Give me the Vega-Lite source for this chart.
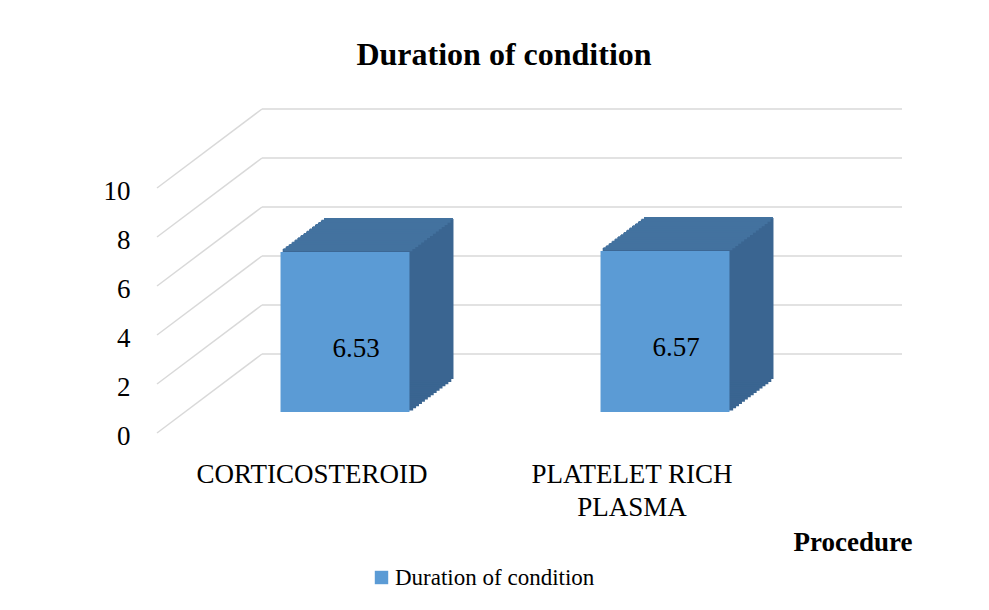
{
  "$schema": "https://vega.github.io/schema/vega-lite/v6.json",
  "width": 640,
  "height": 245,
  "autosize": {"type": "none"},
  "padding": {"left": 157, "top": 188, "right": 192, "bottom": 177},
  "background": "white",
  "config": {"view": {"stroke": null}, "font": "Liberation Serif"},
  "title": {"text": "Duration of condition", "font": "Liberation Serif", "fontSize": 32, "fontWeight": "bold", "color": "black", "anchor": "middle", "baseline": "alphabetic", "offset": 11, "dx": 27},
  "data": {"values": [
    {"procedure": "CORTICOSTEROID", "value": 6.53},
    {"procedure": "PLATELET RICH PLASMA", "value": 6.57}
  ]},
  "layer": [
    {"data": {"values": [{"tick": 0}, {"tick": 2}, {"tick": 4}, {"tick": 6}, {"tick": 8}, {"tick": 10}]},
     "mark": {"type": "rule", "color": "#D9D9D9", "strokeWidth": 1.5, "xOffset": 105, "x2Offset": 105, "yOffset": -79, "y2Offset": -79},
     "encoding": {"x": {"value": 0}, "x2": {"value": 640}, "y": {"field": "tick", "type": "quantitative", "scale": {"domain": [0, 10], "nice": false}}, "y2": {"field": "tick"}}},
    {"data": {"values": [{"tick": 0}, {"tick": 2}, {"tick": 4}, {"tick": 6}, {"tick": 8}, {"tick": 10}]},
     "mark": {"type": "rule", "color": "#D9D9D9", "strokeWidth": 1.5, "x2Offset": 105, "y2Offset": -79},
     "encoding": {"x": {"value": 0}, "x2": {"value": 0}, "y": {"field": "tick", "type": "quantitative"}, "y2": {"field": "tick"}}},
    {"mark": {"type": "bar", "color": "#3A6591", "stroke": "#3A6591", "strokeWidth": 1.5, "xOffset": 30.93, "x2Offset": 30.93, "yOffset": -23.2, "y2Offset": -23.2}, "encoding": {"x": {"field": "procedure", "type": "nominal"}, "y": {"field": "value", "type": "quantitative"}}},
    {"mark": {"type": "bar", "color": "#3A6591", "stroke": "#3A6591", "strokeWidth": 1.5, "xOffset": 33.87, "x2Offset": 33.87, "yOffset": -25.4, "y2Offset": -25.4}, "encoding": {"x": {"field": "procedure", "type": "nominal"}, "y": {"field": "value", "type": "quantitative"}}},
    {"mark": {"type": "bar", "color": "#3A6591", "stroke": "#3A6591", "strokeWidth": 1.5, "xOffset": 36.8, "x2Offset": 36.8, "yOffset": -27.6, "y2Offset": -27.6}, "encoding": {"x": {"field": "procedure", "type": "nominal"}, "y": {"field": "value", "type": "quantitative"}}},
    {"mark": {"type": "bar", "color": "#3A6591", "stroke": "#3A6591", "strokeWidth": 1.5, "xOffset": 39.73, "x2Offset": 39.73, "yOffset": -29.8, "y2Offset": -29.8}, "encoding": {"x": {"field": "procedure", "type": "nominal"}, "y": {"field": "value", "type": "quantitative"}}},
    {"mark": {"type": "bar", "color": "#3A6591", "stroke": "#3A6591", "strokeWidth": 1.5, "xOffset": 42.67, "x2Offset": 42.67, "yOffset": -32, "y2Offset": -32}, "encoding": {"x": {"field": "procedure", "type": "nominal"}, "y": {"field": "value", "type": "quantitative"}}},
    {"mark": {"type": "bar", "color": "#3A6591", "stroke": "#3A6591", "strokeWidth": 1.5, "xOffset": 45.6, "x2Offset": 45.6, "yOffset": -34.2, "y2Offset": -34.2}, "encoding": {"x": {"field": "procedure", "type": "nominal"}, "y": {"field": "value", "type": "quantitative"}}},
    {"mark": {"type": "bar", "color": "#3A6591", "stroke": "#3A6591", "strokeWidth": 1.5, "xOffset": 48.53, "x2Offset": 48.53, "yOffset": -36.4, "y2Offset": -36.4}, "encoding": {"x": {"field": "procedure", "type": "nominal"}, "y": {"field": "value", "type": "quantitative"}}},
    {"mark": {"type": "bar", "color": "#3A6591", "stroke": "#3A6591", "strokeWidth": 1.5, "xOffset": 51.47, "x2Offset": 51.47, "yOffset": -38.6, "y2Offset": -38.6}, "encoding": {"x": {"field": "procedure", "type": "nominal"}, "y": {"field": "value", "type": "quantitative"}}},
    {"mark": {"type": "bar", "color": "#3A6591", "stroke": "#3A6591", "strokeWidth": 1.5, "xOffset": 54.4, "x2Offset": 54.4, "yOffset": -40.8, "y2Offset": -40.8}, "encoding": {"x": {"field": "procedure", "type": "nominal"}, "y": {"field": "value", "type": "quantitative"}}},
    {"mark": {"type": "bar", "color": "#3A6591", "stroke": "#3A6591", "strokeWidth": 1.5, "xOffset": 57.33, "x2Offset": 57.33, "yOffset": -43, "y2Offset": -43}, "encoding": {"x": {"field": "procedure", "type": "nominal"}, "y": {"field": "value", "type": "quantitative"}}},
    {"mark": {"type": "bar", "color": "#3A6591", "stroke": "#3A6591", "strokeWidth": 1.5, "xOffset": 60.27, "x2Offset": 60.27, "yOffset": -45.2, "y2Offset": -45.2}, "encoding": {"x": {"field": "procedure", "type": "nominal"}, "y": {"field": "value", "type": "quantitative"}}},
    {"mark": {"type": "bar", "color": "#3A6591", "stroke": "#3A6591", "strokeWidth": 1.5, "xOffset": 63.2, "x2Offset": 63.2, "yOffset": -47.4, "y2Offset": -47.4}, "encoding": {"x": {"field": "procedure", "type": "nominal"}, "y": {"field": "value", "type": "quantitative"}}},
    {"mark": {"type": "bar", "color": "#3A6591", "stroke": "#3A6591", "strokeWidth": 1.5, "xOffset": 66.13, "x2Offset": 66.13, "yOffset": -49.6, "y2Offset": -49.6}, "encoding": {"x": {"field": "procedure", "type": "nominal"}, "y": {"field": "value", "type": "quantitative"}}},
    {"mark": {"type": "bar", "color": "#3A6591", "stroke": "#3A6591", "strokeWidth": 1.5, "xOffset": 69.07, "x2Offset": 69.07, "yOffset": -51.8, "y2Offset": -51.8}, "encoding": {"x": {"field": "procedure", "type": "nominal"}, "y": {"field": "value", "type": "quantitative"}}},
    {"mark": {"type": "bar", "color": "#3A6591", "xOffset": 72, "x2Offset": 72, "yOffset": -54, "y2Offset": -54}, "encoding": {"x": {"field": "procedure", "type": "nominal"}, "y": {"field": "value", "type": "quantitative"}}},
    {"mark": {"type": "bar", "color": "#43729F", "xOffset": 30.93, "x2Offset": 30.93, "yOffset": -24.7, "y2Offset": -21.7}, "encoding": {"x": {"field": "procedure", "type": "nominal"}, "y": {"field": "value", "type": "quantitative"}, "y2": {"field": "value"}}},
    {"mark": {"type": "bar", "color": "#43729F", "xOffset": 33.87, "x2Offset": 33.87, "yOffset": -26.9, "y2Offset": -23.9}, "encoding": {"x": {"field": "procedure", "type": "nominal"}, "y": {"field": "value", "type": "quantitative"}, "y2": {"field": "value"}}},
    {"mark": {"type": "bar", "color": "#43729F", "xOffset": 36.8, "x2Offset": 36.8, "yOffset": -29.1, "y2Offset": -26.1}, "encoding": {"x": {"field": "procedure", "type": "nominal"}, "y": {"field": "value", "type": "quantitative"}, "y2": {"field": "value"}}},
    {"mark": {"type": "bar", "color": "#43729F", "xOffset": 39.73, "x2Offset": 39.73, "yOffset": -31.3, "y2Offset": -28.3}, "encoding": {"x": {"field": "procedure", "type": "nominal"}, "y": {"field": "value", "type": "quantitative"}, "y2": {"field": "value"}}},
    {"mark": {"type": "bar", "color": "#43729F", "xOffset": 42.67, "x2Offset": 42.67, "yOffset": -33.5, "y2Offset": -30.5}, "encoding": {"x": {"field": "procedure", "type": "nominal"}, "y": {"field": "value", "type": "quantitative"}, "y2": {"field": "value"}}},
    {"mark": {"type": "bar", "color": "#43729F", "xOffset": 45.6, "x2Offset": 45.6, "yOffset": -35.7, "y2Offset": -32.7}, "encoding": {"x": {"field": "procedure", "type": "nominal"}, "y": {"field": "value", "type": "quantitative"}, "y2": {"field": "value"}}},
    {"mark": {"type": "bar", "color": "#43729F", "xOffset": 48.53, "x2Offset": 48.53, "yOffset": -37.9, "y2Offset": -34.9}, "encoding": {"x": {"field": "procedure", "type": "nominal"}, "y": {"field": "value", "type": "quantitative"}, "y2": {"field": "value"}}},
    {"mark": {"type": "bar", "color": "#43729F", "xOffset": 51.47, "x2Offset": 51.47, "yOffset": -40.1, "y2Offset": -37.1}, "encoding": {"x": {"field": "procedure", "type": "nominal"}, "y": {"field": "value", "type": "quantitative"}, "y2": {"field": "value"}}},
    {"mark": {"type": "bar", "color": "#43729F", "xOffset": 54.4, "x2Offset": 54.4, "yOffset": -42.3, "y2Offset": -39.3}, "encoding": {"x": {"field": "procedure", "type": "nominal"}, "y": {"field": "value", "type": "quantitative"}, "y2": {"field": "value"}}},
    {"mark": {"type": "bar", "color": "#43729F", "xOffset": 57.33, "x2Offset": 57.33, "yOffset": -44.5, "y2Offset": -41.5}, "encoding": {"x": {"field": "procedure", "type": "nominal"}, "y": {"field": "value", "type": "quantitative"}, "y2": {"field": "value"}}},
    {"mark": {"type": "bar", "color": "#43729F", "xOffset": 60.27, "x2Offset": 60.27, "yOffset": -46.7, "y2Offset": -43.7}, "encoding": {"x": {"field": "procedure", "type": "nominal"}, "y": {"field": "value", "type": "quantitative"}, "y2": {"field": "value"}}},
    {"mark": {"type": "bar", "color": "#43729F", "xOffset": 63.2, "x2Offset": 63.2, "yOffset": -48.9, "y2Offset": -45.9}, "encoding": {"x": {"field": "procedure", "type": "nominal"}, "y": {"field": "value", "type": "quantitative"}, "y2": {"field": "value"}}},
    {"mark": {"type": "bar", "color": "#43729F", "xOffset": 66.13, "x2Offset": 66.13, "yOffset": -51.1, "y2Offset": -48.1}, "encoding": {"x": {"field": "procedure", "type": "nominal"}, "y": {"field": "value", "type": "quantitative"}, "y2": {"field": "value"}}},
    {"mark": {"type": "bar", "color": "#43729F", "xOffset": 69.07, "x2Offset": 69.07, "yOffset": -53.3, "y2Offset": -50.3}, "encoding": {"x": {"field": "procedure", "type": "nominal"}, "y": {"field": "value", "type": "quantitative"}, "y2": {"field": "value"}}},
    {"mark": {"type": "bar", "color": "#43729F", "xOffset": 71.5, "x2Offset": 71.5, "yOffset": -55, "y2Offset": -53}, "encoding": {"x": {"field": "procedure", "type": "nominal"}, "y": {"field": "value", "type": "quantitative"}, "y2": {"field": "value"}}},
    {"mark": {"type": "bar", "xOffset": 28, "x2Offset": 28, "yOffset": -21, "y2Offset": -21},
     "encoding": {
       "x": {"field": "procedure", "type": "nominal", "sort": null,
             "scale": {"paddingInner": 0.597, "paddingOuter": 0.2985},
             "axis": {"title": "Procedure", "domain": false, "ticks": false, "labelAngle": 0, "labelLimit": 0,
                      "labelFont": "Liberation Serif", "labelFontSize": 27, "labelColor": "black", "labelAlign": "center",
                      "labelBaseline": "top", "labelPadding": 28, "labelLineHeight": 33, "labelOffset": -5,
                      "labelExpr": "datum.label == 'PLATELET RICH PLASMA' ? ['PLATELET RICH', 'PLASMA'] : datum.label",
                      "titleFont": "Liberation Serif", "titleFontSize": 27, "titleFontWeight": "bold", "titleColor": "black",
                      "titleX": 755, "titleY": 109, "titleAlign": "right", "titleBaseline": "middle"}},
       "y": {"field": "value", "type": "quantitative",
             "axis": {"title": null, "domain": false, "ticks": false, "grid": false, "values": [0, 2, 4, 6, 8, 10],
                      "labelFont": "Liberation Serif", "labelFontSize": 27, "labelColor": "black", "labelPadding": 27, "labelOffset": 3}},
       "color": {"datum": "Duration of condition", "type": "nominal",
                 "scale": {"domain": ["Duration of condition"], "range": ["#5B9BD5"]},
                 "legend": {"title": null, "orient": "none", "legendX": 213, "legendY": 378, "symbolType": "square", "symbolSize": 180, "symbolStrokeWidth": 0, "labelLimit": 0,
                            "labelFont": "Liberation Serif", "labelFontSize": 23, "labelColor": "black", "labelOffset": 2}}
     }},
    {"mark": {"type": "text", "font": "Liberation Serif", "fontSize": 27, "color": "black", "baseline": "middle", "align": "center", "xOffset": 39, "yOffset": 76},
     "encoding": {"x": {"field": "procedure", "type": "nominal"}, "y": {"field": "value", "type": "quantitative"}, "text": {"field": "value", "type": "quantitative", "format": ".2f"}}}
  ]
}
